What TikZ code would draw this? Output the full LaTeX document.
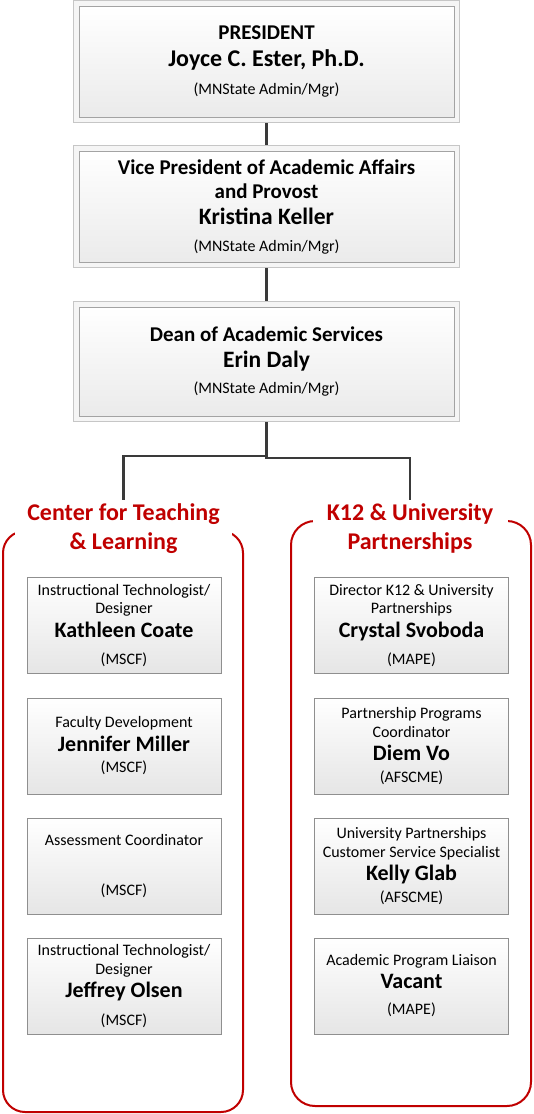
\documentclass[tikz,border=0pt]{standalone}
\usepackage{fontspec}
\setmainfont{Carlito}
\usetikzlibrary{backgrounds}
\definecolor{hdred}{HTML}{C00000}
\definecolor{connc}{HTML}{3A3A3A}
\definecolor{innerc}{HTML}{A3A3A3}
\definecolor{outerc}{HTML}{C6C6C6}
\definecolor{smallc}{HTML}{8F8F8F}
\newcommand\fsz[2]{\fontsize{#1}{#2}\selectfont}
\newcommand\pname[1]{{\fsz{22}{18.5}\bfseries #1}}
\begin{document}
\begin{tikzpicture}[x=1pt,y=-1pt,
 mainbox/.style={draw=innerc, line width=0.9pt, top color=white, bottom color=black!8, minimum width=375pt, minimum height=111pt, inner sep=0pt, align=center},
 outerbox/.style={draw=outerc, line width=0.9pt, fill=black!4},
 conn/.style={draw=connc, line width=2.3pt},
 redframe/.style={draw=hdred, line width=2pt},
 header/.style={fill=white, text=hdred, font=\fsz{24}{29}\bfseries, align=center, inner sep=0pt},
 smallbox/.style={draw=smallc, line width=0.9pt, top color=white, bottom color=black!10, minimum width=194pt, minimum height=96pt, inner sep=0pt, align=center, font=\fsz{16}{18.5}},
]
\useasboundingbox (0,0) rectangle (533,1114);

% top boxes
\node[mainbox, font=\fsz{21}{27}\bfseries] (pres) at (266.5,61.5)
  {PRESIDENT\\{\fsz{24}{27}Joyce C. Ester, Ph.D.}\\[1pt]{\fsz{16}{27}\mdseries (MNState Admin/Mgr)}};
\node[mainbox, font=\fsz{21}{24}\bfseries] (vp) at (266.5,206.5)
  {Vice President of Academic Affairs\\and Provost\\[2pt]{\fsz{23.5}{24}Kristina Keller}\\[3pt]{\fsz{16}{24}\mdseries (MNState Admin/Mgr)}};
\node[mainbox, font=\fsz{21}{26}\bfseries, minimum height=109pt] (dean) at (266.5,361.5)
  {Dean of Academic Services\\{\fsz{23.5}{26}Erin Daly}\\{\fsz{16}{26}\mdseries (MNState Admin/Mgr)}};

% red frames
\draw[redframe, rounded corners=22pt] (3,531) rectangle (243,1112);
\draw[redframe, rounded corners=24pt] (291,521) rectangle (531,1106);

% headers
\node[header, minimum width=217pt] (ctl) at (123.5,528.5) {Center for Teaching\\\& Learning};
\node[header, minimum width=195pt] (k12) at (410,528) {K12 \& University\\Partnerships};

% left column
\node[smallbox] (kc) at (124,625.5) {Instructional Technologist/\\Designer\\[5.5pt]\pname{Kathleen Coate}\\[8.5pt](MSCF)};
\node[smallbox] (jm) at (124,746) {Faculty Development\\[5.5pt]\pname{Jennifer Miller}\\[2.5pt](MSCF)};
\node[smallbox] (ac) at (124,866) {Assessment Coordinator\\[31.5pt](MSCF)};
\node[smallbox] (jo) at (124,986) {Instructional Technologist/\\Designer\\[4.5pt]\pname{Jeffrey Olsen}\\[9.5pt](MSCF)};

% right column
\node[smallbox] (cs) at (411.5,625.5) {Director K12 \& University\\Partnerships\\[5.5pt]\pname{Crystal Svoboda}\\[8.5pt](MAPE)};
\node[smallbox] (dv) at (411.5,746) {Partnership Programs\\Coordinator\\[4.5pt]\pname{Diem Vo}\\[3.5pt](AFSCME)};
\node[smallbox] (kg) at (411.5,866) {University Partnerships\\Customer Service Specialist\\[4.5pt]\pname{Kelly Glab}\\[3.5pt](AFSCME)};
\node[smallbox] (va) at (411.5,986) {Academic Program Liaison\\[4.5pt]\pname{Vacant}\\[7.5pt](MAPE)};

\begin{scope}[on background layer]
  \fill[white] (0,0) rectangle (533,1114);
  \coordinate (j) at (266.5,456);
  \coordinate (jr) at (266.5,458);
  \draw[conn] (pres.south) -- (vp.north);
  \draw[conn] (vp.south) -- (dean.north);
  \draw[conn, shorten >=3pt] (dean.south) -- (j) -| (ctl.north);
  \draw[conn, shorten >=3pt] (j) -- (jr) -| (k12.north);
  \foreach \b in {pres,vp,dean}
    \draw[outerbox] ([shift={(-5pt,5pt)}]\b.north west) rectangle ([shift={(5pt,-5pt)}]\b.south east);
\end{scope}
\end{tikzpicture}
\end{document}
